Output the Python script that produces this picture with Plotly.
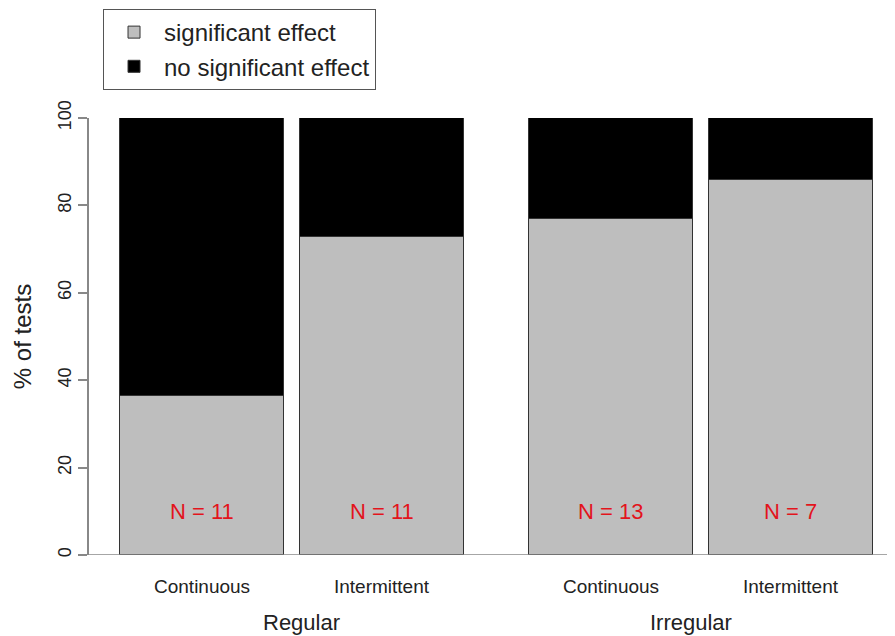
import plotly.graph_objects as go

categories = ["Continuous", "Intermittent", "Continuous", "Intermittent"]
groups = ["Regular", "Irregular"]
n_tests = [11, 11, 13, 7]
significant = [36.4, 72.7, 76.9, 85.7]
not_significant = [100 - v for v in significant]
positions = [0.5, 1.6, 3.0, 4.1]
group_centers = [1.11, 3.49]

FONT = "Liberation Sans, Arial, sans-serif"
fig = go.Figure()
fig.add_trace(go.Bar(x=positions, y=significant, width=1.0, name="significant effect",
                     marker=dict(color="#bebebe", line=dict(color="#333333", width=1))))
fig.add_trace(go.Bar(x=positions, y=not_significant, width=1.0, name="no significant effect",
                     marker=dict(color="#000000", line=dict(color="#333333", width=1))))

for p, n in zip(positions, n_tests):
    fig.add_annotation(x=p, y=10, text=f"N = {n}", showarrow=False,
                       font=dict(color="#e3141c", size=22, family=FONT))
for p, c in zip(positions, categories):
    fig.add_annotation(x=p, y=0, yref="y", text=c, showarrow=False, yshift=-31,
                       font=dict(color="#222222", size=19, family=FONT))
for p, g in zip(group_centers, groups):
    fig.add_annotation(x=p, y=0, yref="y", text=g, showarrow=False, yshift=-67,
                       font=dict(color="#222222", size=22, family=FONT))

fig.add_shape(type="line", xref="paper", yref="y", x0=-0.011, x1=1, y0=0, y1=0,
              line=dict(color="#888888", width=1.5))

fig.update_layout(
    width=887, height=628,
    margin=dict(l=81, r=0, t=110, b=81),
    barmode="stack", bargap=0,
    plot_bgcolor="white", paper_bgcolor="white",
    font=dict(family=FONT, color="#222222"),
    showlegend=True,
    legend=dict(x=0.0174, y=1.2494, xanchor="left", yanchor="top", traceorder="normal",
                bordercolor="#555555", borderwidth=1, bgcolor="white",
                font=dict(size=24, family=FONT, color="#222222"),
                itemwidth=50),
    xaxis=dict(range=[-0.19, 4.737], showticklabels=False, showgrid=False,
               zeroline=False, showline=False, ticks="", fixedrange=True),
    yaxis=dict(range=[0, 100], tickvals=[0, 20, 40, 60, 80, 100], tickangle=-90,
               ticks="outside", ticklen=9, tickcolor="#888888", tickwidth=1.5,
               showline=True, linecolor="#888888", linewidth=1.5,
               showgrid=False, zeroline=False,
               tickfont=dict(size=18, family=FONT, color="#222222"),
               title=dict(text="% of tests", font=dict(size=24, family=FONT, color="#222222"),
                          standoff=17)),
)

fig.write_html("out.html")
